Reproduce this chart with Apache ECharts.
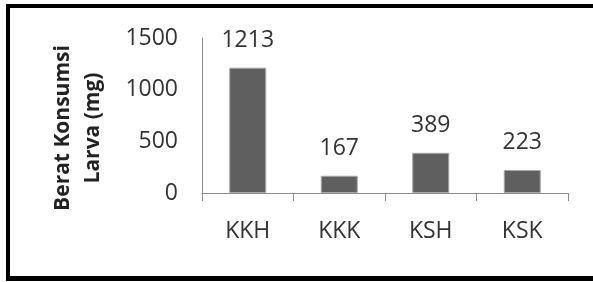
<!DOCTYPE html>
<html lang="en">

<head>
    <meta charset="UTF-8">
    <title>Berat Konsumsi Larva</title>
    <style>
        html,
        body {
            margin: 0;
            padding: 0;
            background: #fff;
        }

        #wrap {
            position: relative;
            width: 593px;
            height: 282px;
            overflow: hidden;
        }

        #chartmain {
            position: absolute;
            left: 0;
            top: 0;
            width: 593px;
            height: 282px;
        }

        /* black frame, right edge is cut off in the original */
        #frame {
            position: absolute;
            left: 6px;
            top: 4px;
            width: 600px;
            height: 268px;
            border-left: 4px solid #000;
            border-top: 4px solid #000;
            border-bottom: 5px solid #000;
            pointer-events: none;
        }
    </style>
</head>

<body>
    <div id="wrap">
        <div id="chartmain"></div>
        <div id="frame"></div>
    </div>
    <script src="https://cdn.jsdelivr.net/npm/echarts@6/dist/echarts.min.js"></script>
    <script type="text/javascript">
        var categories = ['KKH', 'KKK', 'KSH', 'KSK'];
        var values = [1213, 167, 389, 223];
        var yTicks = [0, 500, 1000, 1500];

        var fontFam = '"Open Sans", sans-serif';
        var mychart = echarts.init(document.getElementById('chartmain'));

        var option = {
            animation: false,
            grid: {
                left: 202,
                right: 25,
                top: 38,
                bottom: 89
            },
            graphic: [{
                type: 'text',
                x: 78,
                y: 128,
                rotation: Math.PI / 2,
                style: {
                    text: 'Berat Konsumsi\nLarva (mg)',
                    font: 'bold 21px ' + fontFam,
                    fill: '#222',
                    align: 'center',
                    verticalAlign: 'middle',
                    lineHeight: 30
                }
            }],
            xAxis: {
                type: 'category',
                data: categories,
                axisLine: {
                    lineStyle: {
                        color: '#8c8c8c',
                        width: 1
                    }
                },
                axisTick: {
                    show: true,
                    length: 8,
                    lineStyle: {
                        color: '#8c8c8c'
                    }
                },
                axisLabel: {
                    fontFamily: fontFam,
                    fontSize: 23,
                    color: '#333',
                    margin: 27
                }
            },
            yAxis: {
                type: 'value',
                min: yTicks[0],
                max: yTicks[yTicks.length - 1],
                interval: 500,
                axisLine: {
                    show: true,
                    lineStyle: {
                        color: '#8c8c8c',
                        width: 1
                    }
                },
                axisTick: {
                    show: false
                },
                splitLine: {
                    show: false
                },
                axisLabel: {
                    fontFamily: fontFam,
                    fontSize: 23,
                    color: '#333',
                    margin: 24,
                    formatter: function (v) {
                        return String(v);
                    }
                }
            },
            series: [{
                type: 'bar',
                barWidth: 37,
                data: values,
                itemStyle: {
                    color: '#5f5f5f',
                    borderColor: '#a8a8a8',
                    borderWidth: 1
                },
                label: {
                    show: true,
                    position: 'top',
                    distance: 16,
                    fontFamily: fontFam,
                    fontSize: 23,
                    color: '#333'
                }
            }]
        };
        mychart.setOption(option, true);
    </script>
</body>

</html>
